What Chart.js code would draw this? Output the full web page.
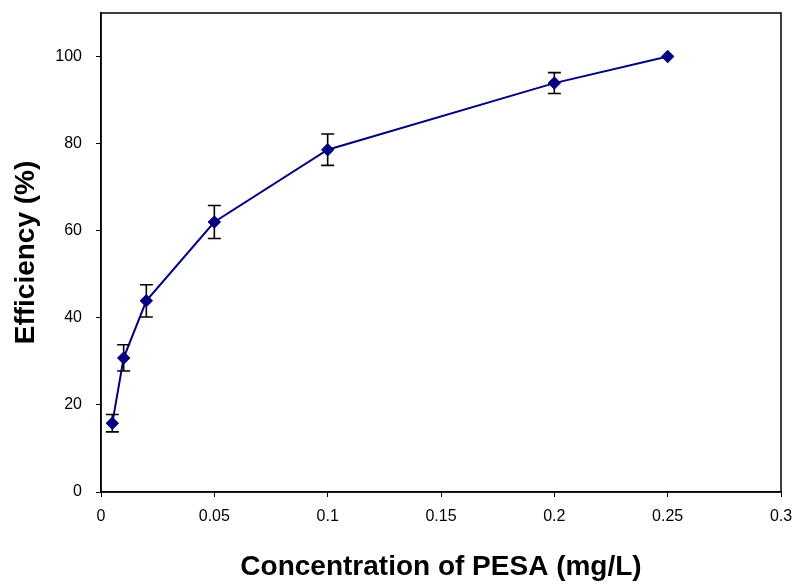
<!DOCTYPE html>
<html>
<head>
<meta charset="utf-8">
<script src="https://cdn.jsdelivr.net/npm/chart.js@4"></script>
<style>
  html, body { margin: 0; padding: 0; background: #fff; }
  #wrap { width: 795px; height: 585px; }
</style>
</head>
<body>
<div id="wrap"><canvas id="grafico" width="795" height="585"></canvas></div>
<script>
const concentracao = [0.005, 0.01, 0.02, 0.05, 0.1, 0.2, 0.25];
const eficiencia = [15.8, 30.8, 43.9, 62.0, 78.6, 93.9, 100];
const erro = [2.0, 3.0, 3.7, 3.8, 3.6, 2.4, 0];
const ticksY = [0, 20, 40, 60, 80, 100];
const ticksX = [0, 0.05, 0.1, 0.15, 0.2, 0.25, 0.3];

const pontos = concentracao.map((x, i) => ({ x: x, y: eficiencia[i] }));

// barras de erro + moldura do grafico
const barrasErro = {
  id: 'barrasErro',
  afterDatasetsDraw(chart) {
    const ctx = chart.ctx;
    const sx = chart.scales.x, sy = chart.scales.y;
    const area = chart.chartArea;
    ctx.save();
    ctx.strokeStyle = '#000';
    ctx.lineWidth = 1.5;
    ctx.strokeRect(area.left, area.top, area.right - area.left, area.bottom - area.top);
    ctx.lineWidth = 1.6;
    pontos.forEach((p, i) => {
      if (!erro[i]) return;
      const px = sx.getPixelForValue(p.x);
      const top = sy.getPixelForValue(p.y + erro[i]);
      const bot = sy.getPixelForValue(p.y - erro[i]);
      ctx.beginPath();
      ctx.moveTo(px, top); ctx.lineTo(px, bot);
      ctx.moveTo(px - 6.5, top); ctx.lineTo(px + 6.5, top);
      ctx.moveTo(px - 6.5, bot); ctx.lineTo(px + 6.5, bot);
      ctx.stroke();
    });
    ctx.restore();
    // redesenha os marcadores por cima das barras
    chart.getDatasetMeta(0).data.forEach(el => el.draw(ctx, area));
  }
};

// sem folga extra dos rotulos, a area fica onde o padding manda
function semFolga(s) {
  s.paddingTop = 0;
  s.paddingBottom = 0;
  s.paddingLeft = 0;
  s.paddingRight = 0;
}

new Chart(document.getElementById('grafico').getContext('2d'), {
  type: 'scatter',
  data: {
    datasets: [{
      data: pontos,
      showLine: true,
      borderColor: '#000080',
      backgroundColor: '#000080',
      borderWidth: 2,
      pointStyle: 'rectRot',
      pointRadius: 6.5,
      pointBorderWidth: 0,
      pointBackgroundColor: '#000080',
      tension: 0
    }]
  },
  options: {
    responsive: false,
    animation: false,
    layout: { padding: { top: 13, right: 14, left: 0, bottom: 0 } },
    plugins: { legend: { display: false }, tooltip: { enabled: false } },
    scales: {
      x: {
        type: 'linear',
        min: 0,
        max: 0.3,
        afterBuildTicks: s => { s.ticks = ticksX.map(v => ({ value: v })); },
        afterFit: s => { s.height = 93; semFolga(s); },
        ticks: {
          color: '#000',
          font: { family: 'Liberation Sans, Arial', size: 16 },
          padding: 10,
          maxRotation: 0,
          callback: v => String(+v.toFixed(2))
        },
        grid: { drawOnChartArea: false, color: '#000', tickLength: 5, tickWidth: 1 },
        border: { color: '#000', width: 1.5 },
        title: {
          display: true,
          text: 'Concentration of PESA (mg/L)',
          color: '#000',
          font: { family: 'Liberation Sans, Arial', size: 28, weight: 'bold' },
          padding: { top: 0, bottom: 1 }
        }
      },
      y: {
        min: 0,
        max: 110,
        afterBuildTicks: s => { s.ticks = ticksY.map(v => ({ value: v })); },
        afterFit: s => { s.width = 101; semFolga(s); },
        ticks: {
          color: '#000',
          font: { family: 'Liberation Sans, Arial', size: 16 },
          padding: 14
        },
        grid: { drawOnChartArea: false, color: '#000', tickLength: 5, tickWidth: 1 },
        border: { color: '#000', width: 1.5 },
        title: {
          display: true,
          text: 'Efficiency (%)',
          color: '#000',
          font: { family: 'Liberation Sans, Arial', size: 28, weight: 'bold' },
          padding: { top: 9, bottom: 0 }
        }
      }
    }
  },
  plugins: [barrasErro]
});
</script>
</body>
</html>
